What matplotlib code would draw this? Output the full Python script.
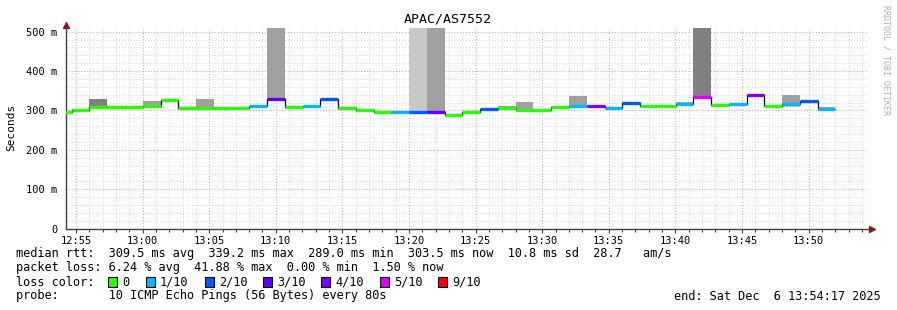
import numpy as np
import matplotlib
matplotlib.use("Agg")
import matplotlib.pyplot as plt
from matplotlib.ticker import MultipleLocator, FixedLocator
from matplotlib.patches import Rectangle

W, H = 897, 310
MONO = "DejaVu Sans Mono"

# time in minutes after 12:00, one probe round every 80 s
first_step = 53.345
step = 80 / 60.0

median = [297, 300, 309, 309, 309, 311, 327, 306, 306, 306, 306, 311, 330, 309,
          311, 329, 306, 300, 297, 295, 295, 295, 289.0, 295, 304.6, 307, 302, 302,
          309.7, 312, 312, 307, 318, 312, 312, 316.5, 335, 313, 317, 339.2, 312,
          317, 324, 303.5]
loss = [0, 0, 0, 0, 0, 0, 0, 0, 0, 0, 0, 1, 3, 0, 1, 2, 0, 0, 0, 1, 2, 3, 0, 0,
        2, 0, 0, 0, 0, 1, 4, 1, 2, 0, 0, 1, 5, 0, 1, 4, 0, 1, 2, 1]

# smoke: (step index, low, high, shade)
smoke = [(1, 300, 303, "#b4b4b4"), (2, 309, 329, "#808080"), (5, 311, 324, "#a0a0a0"),
         (8, 306, 329, "#a0a0a0"), (12, 330, 509, "#a0a0a0"), (20, 295, 509, "#c8c8c8"),
         (21, 295, 509, "#a0a0a0"), (25, 307, 311, "#a0a0a0"), (26, 302, 321, "#a0a0a0"),
         (29, 312, 337, "#a0a0a0"), (32, 318, 321, "#a0a0a0"), (35, 316.5, 321, "#a0a0a0"),
         (36, 335, 509, "#808080"), (40, 312, 315, "#a0a0a0"), (41, 309, 317, "#c8c8c8"),
         (41, 317, 338, "#a0a0a0"), (43, 303.5, 308, "#a0a0a0")]

loss_levels = [0, 1, 2, 3, 4, 5, 9]
loss_labels = ["0", "1/10", "2/10", "3/10", "4/10", "5/10", "9/10"]
loss_colors = ["#26ff00", "#00b8ff", "#0059ff", "#5e00ff", "#7e00ff", "#dd00ff", "#ff0000"]

xticks = [55, 60, 65, 70, 75, 80, 85, 90, 95, 100, 105, 110]
xlabels = ["12:55", "13:00", "13:05", "13:10", "13:15", "13:20", "13:25", "13:30",
           "13:35", "13:40", "13:45", "13:50"]
yticks = [0, 100, 200, 300, 400, 500]
ylabels = ["0", "100 m", "200 m", "300 m", "400 m", "500 m"]

fig = plt.figure(figsize=(W / 100, H / 100), dpi=100)
fig.patch.set_facecolor("white")
ax = fig.add_axes([66 / W, 1 - 228.7 / H, 802 / W, 201 / H])

starts = first_step + np.arange(len(median)) * step
edges = np.append(starts, starts[-1] + step)

for i, lo, hi, shade in smoke:
    ax.bar(starts[i], hi - lo, width=step, bottom=lo, align="edge", color=shade,
           linewidth=0, zorder=2)

ax.stairs(median, edges, baseline=None, color="black", lw=0.9, zorder=3)
col = [loss_colors[loss_levels.index(l)] for l in loss]
ax.hlines(median, starts, starts + step, colors=col, lw=2.4, zorder=4)

ax.set_xlim(54.25, 54.25 + 802 / 13.32)
ax.set_ylim(0, 510)

ax.xaxis.set_major_locator(FixedLocator(xticks))
ax.xaxis.set_minor_locator(MultipleLocator(1))
ax.yaxis.set_major_locator(FixedLocator(yticks))
ax.yaxis.set_minor_locator(MultipleLocator(20))
ax.set_xticklabels(xlabels, fontfamily=MONO, fontsize=7.5)
ax.set_yticklabels(ylabels, fontfamily=MONO, fontsize=7.5)
ax.tick_params(which="both", direction="out", color="#404040", width=0.8)
ax.tick_params(axis="x", which="major", length=3, pad=2)
ax.tick_params(axis="x", which="minor", length=2)
ax.tick_params(axis="y", which="both", length=0, pad=6)

ax.grid(which="minor", color="#d0d0d0", lw=0.7, linestyle=(0, (1, 2)))
ax.grid(which="major", color="#f09090", lw=0.7, linestyle=(0, (1, 2)))
ax.set_axisbelow(True)

for s in ["top", "right"]:
    ax.spines[s].set_visible(False)
for s in ["left", "bottom"]:
    ax.spines[s].set_color("#404040")
    ax.spines[s].set_linewidth(1)

ax.plot([0], [1.015], marker="^", ms=4, color="#8b1a1a", transform=ax.transAxes, clip_on=False)
ax.plot([1.005], [0], marker=">", ms=4, color="#8b1a1a", transform=ax.transAxes, clip_on=False)

fig.text(11 / W, 1 - 127 / H, "Seconds", rotation=90, ha="center", va="center",
         fontfamily=MONO, fontsize=8)
fig.text(448 / W, 1 - 19 / H, "APAC/AS7552", ha="center", va="center",
         fontfamily=MONO, fontsize=9.5)
fig.text(886 / W, 1 - 60 / H, "RRDTOOL / TOBI OETIKER", rotation=270, ha="center",
         va="center", fontfamily=MONO, fontsize=6, color="#b0b0b0")

def line(y, s, x=16):
    fig.text(x / W, 1 - y / H, s, ha="left", va="center", fontfamily=MONO, fontsize=8.55)

line(254, "median rtt:  309.5 ms avg  339.2 ms max  289.0 ms min  303.5 ms now  10.8 ms sd  28.7   am/s")
line(268, "packet loss: 6.24 % avg  41.88 % max  0.00 % min  1.50 % now")
line(282, "loss color:")
line(296, "probe:       10 ICMP Echo Pings (56 Bytes) every 80s")
fig.text(881 / W, 1 - 296 / H, "end: Sat Dec  6 13:54:17 2025", ha="right", va="center",
         fontfamily=MONO, fontsize=8.55)

box_x = [108, 146, 205, 263, 321, 380, 438]
for bx, lab, c in zip(box_x, loss_labels, loss_colors):
    fig.patches.append(Rectangle((bx / W, 1 - 287 / H), 9 / W, 10 / H, facecolor=c,
                                 edgecolor="black", lw=0.8, transform=fig.transFigure))
    line(282, lab, bx + 14)

fig.savefig("out.png", dpi=100)
